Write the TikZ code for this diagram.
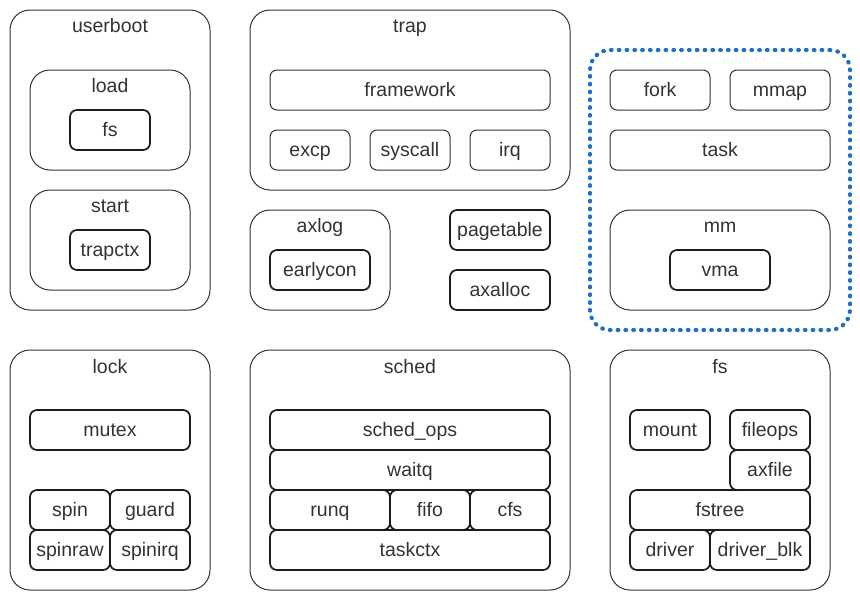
\documentclass[tikz,border=0pt]{standalone}
\usepackage{fontspec}
\setmainfont{Liberation Sans}
\definecolor{ink}{HTML}{333333}
\definecolor{edge}{HTML}{1C1C1C}
\definecolor{dotblue}{HTML}{1F6FC6}
\tikzset{
	txt/.style={font=\fontsize{19.5}{22}\selectfont, text=ink, text height=12pt, text depth=0pt},
	grp/.style={draw=ink, line width=1pt, rounded corners=20pt, inner sep=0pt, outer sep=0pt},
	ttl/.style={txt, inner sep=0pt},
	leaf/.style={txt, draw=ink, line width=1pt, rounded corners=7pt, inner sep=0pt, outer sep=0pt, minimum height=40pt},
	leafb/.style={leaf, draw=edge, line width=1.7pt},
	dotbox/.style={draw=dotblue, line width=4.2pt, line cap=round, dash pattern=on 0.6pt off 7.2pt, rounded corners=20pt, inner sep=0pt}
}
\begin{document}
\begin{tikzpicture}[x=1pt,y=-1pt]
	\useasboundingbox (0,0) rectangle (860,600);
	% userboot
	\node[grp, minimum width=200pt, minimum height=300pt] (userboot) at (110,160) {};
	\node[ttl] (userboot-t) at (110,26) {userboot};
	\node[grp, minimum width=160pt, minimum height=100pt] (load) at (110,120) {};
	\node[ttl] (load-t) at (110,86) {load};
	\node[leafb, minimum width=80pt] (loadfs) at (110,130) {fs};
	\node[grp, minimum width=160pt, minimum height=100pt] (start) at (110,240) {};
	\node[ttl] (start-t) at (110,206) {start};
	\node[leafb, minimum width=80pt] (trapctx) at (110,250) {trapctx};
	% trap
	\node[grp, minimum width=320pt, minimum height=180pt] (trap) at (410,100) {};
	\node[ttl] (trap-t) at (410,26) {trap};
	\node[leaf, minimum width=280pt] (framework) at (410,90) {framework};
	\node[leaf, minimum width=80pt] (excp) at (310,150) {excp};
	\node[leaf, minimum width=80pt] (syscall) at (410,150) {syscall};
	\node[leaf, minimum width=80pt] (irq) at (510,150) {irq};
	% axlog, pagetable, axalloc
	\node[grp, minimum width=140pt, minimum height=100pt] (axlog) at (320,260) {};
	\node[ttl] (axlog-t) at (320,226) {axlog};
	\node[leafb, minimum width=100pt] (earlycon) at (320,270) {earlycon};
	\node[leafb, minimum width=100pt] (pagetable) at (500,230) {pagetable};
	\node[leafb, minimum width=100pt] (axalloc) at (500,290) {axalloc};
	% task group
	\node[dotbox, minimum width=260pt, minimum height=280pt] (taskgrp) at (720,190) {};
	\node[leaf, minimum width=100pt] (fork) at (660,90) {fork};
	\node[leaf, minimum width=100pt] (mmap) at (780,90) {mmap};
	\node[leaf, minimum width=220pt] (task) at (720,150) {task};
	\node[grp, minimum width=220pt, minimum height=100pt] (mm) at (720,260) {};
	\node[ttl] (mm-t) at (720,226) {mm};
	\node[leafb, minimum width=100pt] (vma) at (720,270) {vma};
	% lock
	\node[grp, minimum width=200pt, minimum height=240pt] (lock) at (110,470) {};
	\node[ttl] (lock-t) at (110,367) {lock};
	\node[leafb, minimum width=160pt] (mutex) at (110,430) {mutex};
	\node[leafb, minimum width=80pt] (spin) at (70,510) {spin};
	\node[leafb, minimum width=80pt] (guard) at (150,510) {guard};
	\node[leafb, minimum width=80pt] (spinraw) at (70,550) {spinraw};
	\node[leafb, minimum width=80pt] (spinirq) at (150,550) {spinirq};
	% sched
	\node[grp, minimum width=320pt, minimum height=240pt] (sched) at (410,470) {};
	\node[ttl] (sched-t) at (410,367) {sched};
	\node[leafb, minimum width=280pt] (schedops) at (410,430) {sched\_ops};
	\node[leafb, minimum width=280pt] (waitq) at (410,470) {waitq};
	\node[leafb, minimum width=120pt] (runq) at (330,510) {runq};
	\node[leafb, minimum width=80pt] (fifo) at (430,510) {fifo};
	\node[leafb, minimum width=80pt] (cfs) at (510,510) {cfs};
	\node[leafb, minimum width=280pt] (taskctx) at (410,550) {taskctx};
	% fs
	\node[grp, minimum width=220pt, minimum height=240pt] (fs) at (720,470) {};
	\node[ttl] (fs-t) at (720,367) {fs};
	\node[leafb, minimum width=80pt] (mount) at (670,430) {mount};
	\node[leafb, minimum width=80pt] (fileops) at (770,430) {fileops};
	\node[leafb, minimum width=80pt] (axfile) at (770,470) {axfile};
	\node[leafb, minimum width=180pt] (fstree) at (720,510) {fstree};
	\node[leafb, minimum width=80pt] (driver) at (670,550) {driver};
	\node[leafb, minimum width=100pt] (driverblk) at (760,550) {driver\_blk};
\end{tikzpicture}
\end{document}
